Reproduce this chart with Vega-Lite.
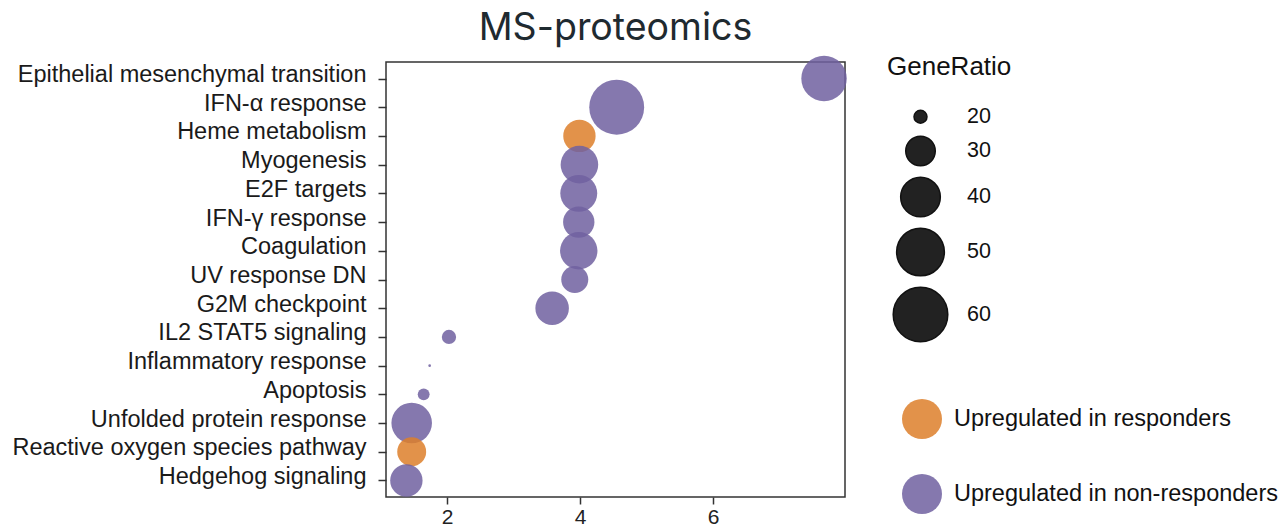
{
  "$schema": "https://vega.github.io/schema/vega-lite/v6.json",
  "autosize": {"type": "none"},
  "width": 459,
  "height": 435,
  "padding": {"left": 386, "top": 62, "right": 441, "bottom": 28},
  "title": {
    "text": "MS-proteomics",
    "font": "Inter",
    "fontSize": 37.5,
    "fontWeight": "normal",
    "color": "#1f2a30",
    "offset": 7,
    "anchor": "middle"
  },
  "config": {
    "view": {"stroke": "#333333", "strokeWidth": 1.5},
    "font": "Liberation Sans"
  },
  "data": {
    "values": [
      {"pathway": "Epithelial mesenchymal transition", "x": 7.665, "GeneRatio": 47, "group": "Upregulated in non-responders"},
      {"pathway": "IFN-α response", "x": 4.55, "GeneRatio": 60.5, "group": "Upregulated in non-responders"},
      {"pathway": "Heme metabolism", "x": 3.99, "GeneRatio": 32.5, "group": "Upregulated in responders"},
      {"pathway": "Myogenesis", "x": 3.99, "GeneRatio": 37.7, "group": "Upregulated in non-responders"},
      {"pathway": "E2F targets\u00a0", "x": 3.98, "GeneRatio": 37, "group": "Upregulated in non-responders"},
      {"pathway": "IFN-γ response", "x": 3.98, "GeneRatio": 31.6, "group": "Upregulated in non-responders"},
      {"pathway": "Coagulation", "x": 3.98, "GeneRatio": 37.5, "group": "Upregulated in non-responders"},
      {"pathway": "UV response DN", "x": 3.92, "GeneRatio": 28, "group": "Upregulated in non-responders"},
      {"pathway": "G2M checkpoint", "x": 3.58, "GeneRatio": 33.6, "group": "Upregulated in non-responders"},
      {"pathway": "IL2 STAT5 signaling\u00a0", "x": 2.03, "GeneRatio": 20.5, "group": "Upregulated in non-responders"},
      {"pathway": "Inflammatory response", "x": 1.74, "GeneRatio": 17.7, "group": "Upregulated in non-responders"},
      {"pathway": "Apoptosis", "x": 1.65, "GeneRatio": 19.6, "group": "Upregulated in non-responders"},
      {"pathway": "Unfolded protein response", "x": 1.47, "GeneRatio": 41, "group": "Upregulated in non-responders"},
      {"pathway": "Reactive oxygen species pathway", "x": 1.47, "GeneRatio": 29.5, "group": "Upregulated in responders"},
      {"pathway": "Hedgehog signaling", "x": 1.39, "GeneRatio": 32.5, "group": "Upregulated in non-responders"}
    ]
  },
  "mark": {"type": "circle", "opacity": 0.85, "strokeWidth": 0.8},
  "encoding": {
    "x": {
      "field": "x",
      "type": "quantitative",
      "scale": {"domain": [1.084, 7.98], "nice": false, "zero": false},
      "axis": {
        "title": null,
        "values": [2, 4, 6],
        "grid": false,
        "domain": false,
        "tickSize": 7,
        "tickWidth": 1.5,
        "tickColor": "#333333",
        "labelFontSize": 21,
        "labelColor": "#222222",
        "labelPadding": 2
      }
    },
    "y": {
      "field": "pathway",
      "type": "nominal",
      "sort": null,
      "scale": {"padding": 0.575},
      "axis": {
        "title": null,
        "grid": false,
        "domain": false,
        "tickSize": 8,
        "tickWidth": 1.5,
        "tickColor": "#333333",
        "labelFontSize": 23.5,
        "labelColor": "#1a1a1a",
        "labelPadding": 12,
        "labelOffset": -4,
        "labelLimit": 500
      }
    },
    "size": {
      "field": "GeneRatio",
      "type": "quantitative",
      "scale": {"domain": [17.6, 60], "range": [0, 2980], "zero": false},
      "legend": {
        "title": "GeneRatio",
        "orient": "none",
        "legendX": 501,
        "legendY": -8,
        "values": [20, 30, 40, 50, 60],
        "titleFontSize": 26,
        "titleFontWeight": "normal",
        "titleColor": "#111111",
        "titlePadding": 26,
        "labelFontSize": 21.5,
        "labelColor": "#111111",
        "labelOffset": 18,
        "rowPadding": 5,
        "symbolOffset": 5,
        "symbolFillColor": "#222222",
        "symbolStrokeColor": "#111111",
        "symbolOpacity": 1,
        "encode": {"symbols": {"update": {"fill": {"value": "#222222"}, "stroke": {"value": "#111111"}, "opacity": {"value": 1}}}}
      }
    },
    "color": {
      "field": "group",
      "type": "nominal",
      "scale": {
        "domain": ["Upregulated in responders", "Upregulated in non-responders"],
        "range": ["#DD7F2A", "#7060A0"]
      },
      "legend": {
        "title": null,
        "orient": "none",
        "legendX": 515,
        "legendY": 336,
        "symbolSize": 1600,
        "symbolType": "circle",
        "labelFontSize": 23.5,
        "labelColor": "#111111",
        "labelOffset": 11,
        "rowPadding": 34,
        "labelLimit": 400
      }
    }
  }
}
